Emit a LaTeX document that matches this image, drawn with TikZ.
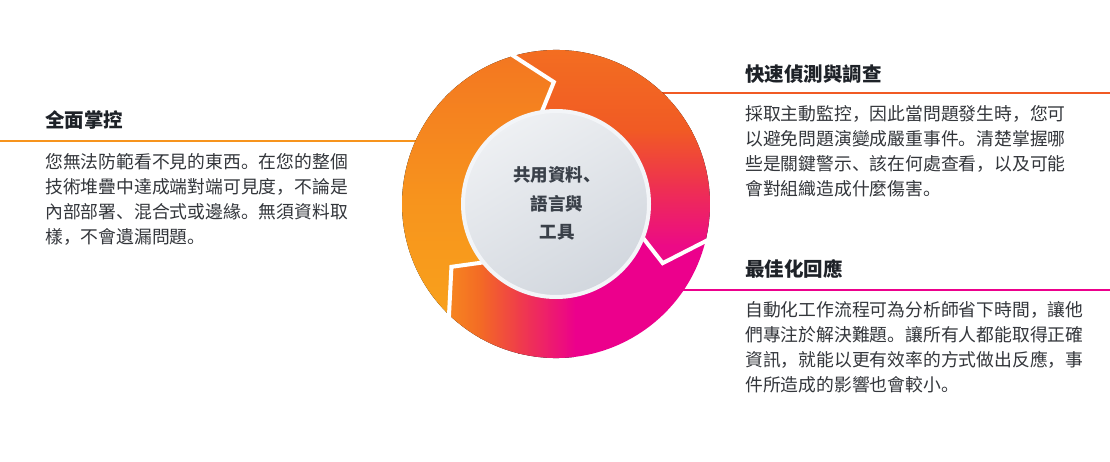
\documentclass[tikz,border=0pt]{standalone}
\usepackage{fontspec}
\newfontfamily\cjk{Noto Sans CJK SC}
\definecolor{titlecol}{HTML}{1E2228}
\definecolor{bodycol}{HTML}{33363B}
\definecolor{centercol}{HTML}{3A4049}
\definecolor{lorange}{HTML}{F7941D}
\definecolor{lred}{HTML}{F15A24}
\definecolor{lmag}{HTML}{EC008C}
\definecolor{aTop}{HTML}{F37021}
\definecolor{aMid}{HTML}{F15A24}
\definecolor{aRed}{HTML}{EE3150}
\definecolor{aEnd}{HTML}{EC0A86}
\definecolor{bA}{HTML}{F7891F}
\definecolor{bB}{HTML}{F36A25}
\definecolor{bC}{HTML}{EF3D4A}
\definecolor{bD}{HTML}{EC008C}
\definecolor{cTop}{HTML}{F37521}
\definecolor{cMid}{HTML}{F7941D}
\definecolor{cBot}{HTML}{F9A41B}
\definecolor{discA}{HTML}{EEF0F3}
\definecolor{discB}{HTML}{D2D7DE}
\definecolor{discBorder}{HTML}{F3F5F8}
\begin{document}
\begin{tikzpicture}[x=1pt,y=-1pt,
  title/.style={anchor=base west, inner sep=0pt, font=\cjk\bfseries\fontsize{19.5}{24}\selectfont, text=titlecol},
  body/.style={anchor=base west, inner sep=0pt, font=\cjk\fontsize{17.8}{25}\selectfont, text=bodycol},
  ctext/.style={anchor=base, inner sep=0pt, font=\cjk\bfseries\fontsize{17.5}{24}\selectfont, text=centercol},
  sepline/.style={draw=white, line width=4pt, line join=miter, line cap=rect},
  leader/.style={line width=2pt}]

\fill[white] (0,0) rectangle (1110,462);
\useasboundingbox (0,0) rectangle (1110,462);

\coordinate (C) at (556,204);
% separator points (image angles, clockwise positive)
\coordinate (O1) at ([shift={(-106:154)}]C);
\coordinate (T1) at ([shift={(-91:122)}]C);
\coordinate (I1) at ([shift={(-98.5:94)}]C);
\coordinate (O2) at ([shift={(14:154)}]C);
\coordinate (T2) at ([shift={(29:122)}]C);
\coordinate (I2) at ([shift={(21.5:94)}]C);
\coordinate (O3) at ([shift={(134:154)}]C);
\coordinate (T3) at ([shift={(149:122)}]C);
\coordinate (I3) at ([shift={(141.5:94)}]C);

% leader lines
\coordinate (L1a) at (0,141.5);
\coordinate (L1b) at (500,141.5);
\coordinate (L2a) at (600,93.5);
\coordinate (L2b) at (1110,93.5);
\coordinate (L3a) at (620,289.5);
\coordinate (L3b) at (1110,289.5);
\draw[leader, draw=lorange] (L1a) -- (L1b);
\draw[leader, draw=lred] (L2a) -- (L2b);
\draw[leader, draw=lmag] (L3a) -- (L3b);

% segment A (top right)
\begin{scope}
\clip (O1) arc[start angle=-106,end angle=14,radius=154] -- (T2) -- (I2)
      arc[start angle=21.5,end angle=-98.5,radius=94] -- (T1) -- cycle;
\fill[top color=aTop, bottom color=aMid] (395,40) rectangle (715,131);
\fill[top color=aMid, bottom color=aRed] (395,130) rectangle (715,186);
\fill[top color=aRed, bottom color=aEnd] (395,185) rectangle (715,246);
\fill[aEnd] (395,245) rectangle (715,370);
\end{scope}

% segment B (bottom)
\begin{scope}
\clip (O2) arc[start angle=14,end angle=134,radius=154] -- (T3) -- (I3)
      arc[start angle=141.5,end angle=21.5,radius=94] -- (T2) -- cycle;
\fill[bA] (395,40) rectangle (446,370);
\fill[left color=bA, right color=bB] (445,40) rectangle (481,370);
\fill[left color=bB, right color=bC] (480,40) rectangle (519,370);
\fill[left color=bC, right color=bD] (518,40) rectangle (576,370);
\fill[bD] (575,40) rectangle (715,370);
\end{scope}

% segment C (left)
\begin{scope}
\clip (O3) arc[start angle=134,end angle=254,radius=154] -- (T1) -- (I1)
      arc[start angle=261.5,end angle=141.5,radius=94] -- (T3) -- cycle;
\fill[top color=cTop, bottom color=cMid] (395,45) rectangle (715,201);
\fill[top color=cMid, bottom color=cBot] (395,200) rectangle (715,345);
\fill[cBot] (395,344) rectangle (715,370);
\end{scope}

% white separators
\draw[sepline] (O1) -- (T1) -- (I1);
\draw[sepline] (O2) -- (T2) -- (I2);
\draw[sepline] (O3) -- (T3) -- (I3);

% centre disc
\node[circle, minimum size=186pt, inner sep=0pt, draw=discBorder, line width=4pt,
      top color=discA, bottom color=discB, shading angle=30] (disc) at (C) {};

\node[ctext] (c1) at (557,181.7) {共用資料、};
\node[ctext] (c2) at (557,210.2) {語言與};
\node[ctext] (c3) at (557,238.7) {工具};

% left block
\node[title] (t1) at (45,127.4) {全面掌控};
\node[body] (b1a) at (45,168.5) {您無法防範看不見的東西。在您的整個};
\node[body] (b1b) at (45,193.5) {技術堆疊中達成端對端可見度，不論是};
\node[body] (b1c) at (45,218.5) {內部部署、混合式或邊緣。無須資料取};
\node[body] (b1d) at (45,243.5) {樣，不會遺漏問題。};

% right top block
\node[title] (t2) at (745,81.4) {快速偵測與調查};
\node[body] (b2a) at (745,120.1) {採取主動監控，因此當問題發生時，您可};
\node[body] (b2b) at (745,145.1) {以避免問題演變成嚴重事件。清楚掌握哪};
\node[body] (b2c) at (745,170.1) {些是關鍵警示、該在何處查看，以及可能};
\node[body] (b2d) at (745,195.1) {會對組織造成什麼傷害。};

% right bottom block
\node[title] (t3) at (745,276.4) {最佳化回應};
\node[body] (b3a) at (745,316.8) {自動化工作流程可為分析師省下時間，讓他};
\node[body] (b3b) at (745,341.8) {們專注於解決難題。讓所有人都能取得正確};
\node[body] (b3c) at (745,366.8) {資訊，就能以更有效率的方式做出反應，事};
\node[body] (b3d) at (745,391.8) {件所造成的影響也會較小。};
\end{tikzpicture}
\end{document}
